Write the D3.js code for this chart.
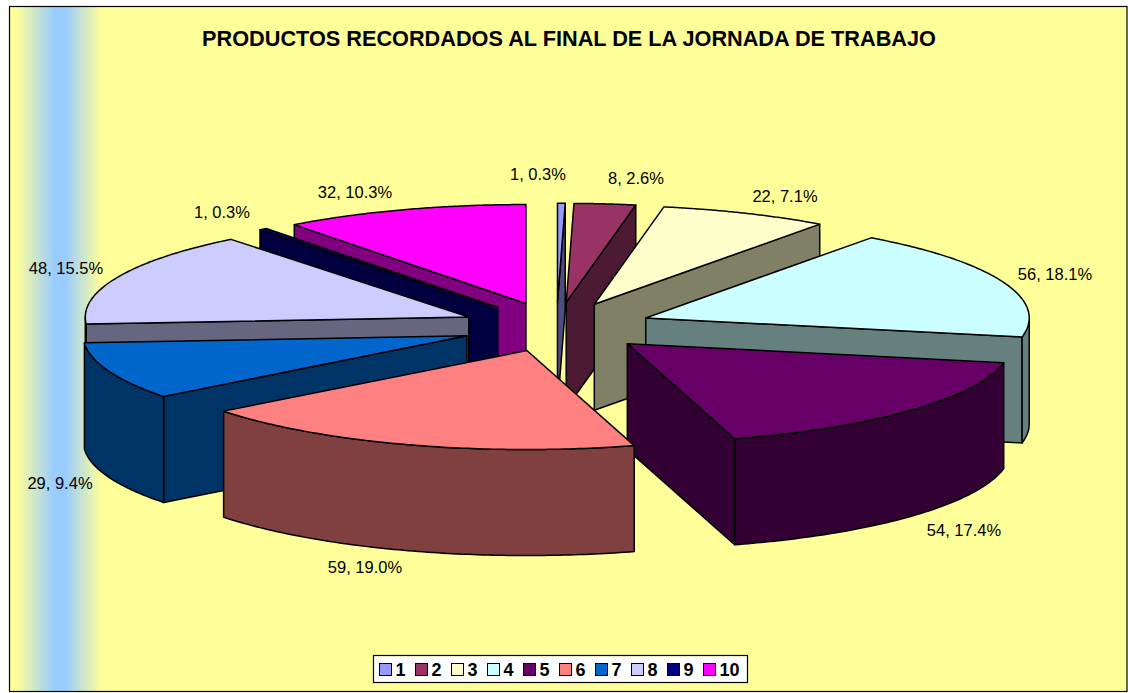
<!DOCTYPE html>
<html><head><meta charset="utf-8">
<script src="https://cdn.jsdelivr.net/npm/d3@7"></script>
<style>html,body{margin:0;padding:0;background:#fff;overflow:hidden}svg{display:block}text{font-family:"Liberation Sans",Arial,sans-serif;fill:#000}</style>
</head><body><div id="c"></div>
<script>
const title = "PRODUCTOS RECORDADOS AL FINAL DE LA JORNADA DE TRABAJO";
const categories = ["1","2","3","4","5","6","7","8","9","10"];
const values = [1,8,22,56,54,59,29,48,1,32];
const percents = ["0.3%","2.6%","7.1%","18.1%","17.4%","19.0%","9.4%","15.5%","0.3%","10.3%"];
const topColors = ["#9999ff","#993366","#ffffcc","#ccffff","#660066","#ff8080","#0066cc","#ccccff","#000080","#ff00ff"];
const sideColors = ["#4d4d80","#4d1a33","#808066","#668080","#330033","#804040","#003366","#666680","#000040","#800080"];
const labelCentres = [[538,174],[636,178],[785,196],[1055,274],[964,530],[365,567],[60,483],[66,268],[222,212],[355,192]];

const W=1128,H=693;
const svg=d3.select("#c").append("svg").attr("width",W).attr("height",H);
const defs=svg.append("defs");
const g=defs.append("linearGradient").attr("id","bg").attr("x1",0).attr("x2",1).attr("y1",0).attr("y2",0);
[[0,"#ffff99"],[0.006,"#ffff99"],[0.04,"#99ccff"],[0.05,"#99ccff"],[0.082,"#ffff99"],[1,"#ffff99"]]
  .forEach(s=>g.append("stop").attr("offset",s[0]).attr("stop-color",s[1]));
svg.append("rect").attr("x",9.5).attr("y",6.5).attr("width",1117.5).attr("height",685)
  .attr("fill","url(#bg)").attr("stroke","#000").attr("stroke-width",1.2);
svg.append("text").attr("x",569).attr("y",46).attr("text-anchor","middle")
  .attr("font-size",21.7).attr("font-weight","bold").text(title);

// Pie geometry: exploded slices in an oblique projection
const cx=556.5,cy=327,rx=383.5,ry=99,depth=106,explode=0.25;
const px=d3.scaleLinear().domain([-1,1]).range([cx-rx,cx+rx]);
const py=d3.scaleLinear().domain([-1,1]).range([cy-ry,cy+ry]);
const arcs=d3.pie().sort(null).value(d=>d)(values)
  .map((a,i)=>({...a,i,mid:(a.startAngle+a.endAngle)/2}));
const line=d3.line();
const pt=(a,r,ox,oy,dz=0)=>[px(ox+r*Math.sin(a)),py(oy-r*Math.cos(a))+dz];
const order=arcs.slice().sort((a,b)=>d3.descending(Math.cos(a.mid),Math.cos(b.mid)));
const layer=svg.append("g").attr("stroke","#000").attr("stroke-width",1.5).attr("stroke-linejoin","round");
const N=90;
function arcPts(a0,a1,ox,oy,dz){
  return d3.range(N+1).map(k=>pt(a0+(a1-a0)*k/N,1,ox,oy,dz));
}
order.forEach(d=>{
  const ox=explode*Math.sin(d.mid), oy=-explode*Math.cos(d.mid);
  const a0=d.startAngle,a1=d.endAngle;
  const c=pt(0,0,ox,oy),cb=pt(0,0,ox,oy,depth);
  // radial walls that face the viewer
  [[a0,a0-Math.PI/2],[a1,a1+Math.PI/2]].forEach(([a,n])=>{
    if(Math.cos(n)<-0.0001){
      layer.append("path").attr("fill",sideColors[d.i])
       .attr("d",line([c,pt(a,1,ox,oy),pt(a,1,ox,oy,depth),cb])+"Z");
    }
  });
  // outer rim, visible between 90° and 270°
  const r0=Math.max(a0,Math.PI/2),r1=Math.min(a1,3*Math.PI/2);
  if(r1>r0){
    const t=arcPts(r0,r1,ox,oy,0),b=arcPts(r0,r1,ox,oy,depth).reverse();
    layer.append("path").attr("fill",sideColors[d.i]).attr("d",line(t.concat(b))+"Z");
  }
  layer.append("path").attr("fill",topColors[d.i])
    .attr("d",line([c].concat(arcPts(a0,a1,ox,oy,0)))+"Z");
});

// Data labels
svg.append("g").selectAll("text").data(arcs).join("text")
  .attr("x",d=>labelCentres[d.i][0]).attr("y",d=>labelCentres[d.i][1]+5.5)
  .attr("text-anchor","middle").attr("font-size",16.5).attr("fill","#111")
  .text(d=>`${d.value}, ${percents[d.i]}`);

// Legend
const lg=svg.append("g");
lg.append("rect").attr("x",373.5).attr("y",655.5).attr("width",374).attr("height",27)
  .attr("fill","#fff").attr("stroke","#000").attr("stroke-width",1.2);
const lx=d3.scaleLinear().domain([0,9]).range([379.5,703.5]);
categories.forEach((c,i)=>{
  lg.append("rect").attr("x",lx(i)).attr("y",663.5).attr("width",12).attr("height",12)
    .attr("fill",topColors[i]).attr("stroke","#000");
  lg.append("text").attr("x",lx(i)+16).attr("y",676).attr("font-size",18).attr("font-weight","bold").text(c);
});
</script></body></html>
